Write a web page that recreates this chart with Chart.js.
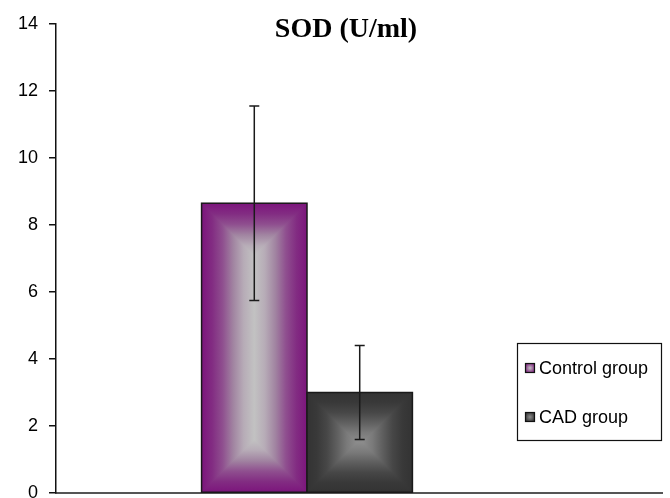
<!DOCTYPE html>
<html>
<head>
<meta charset="utf-8">
<script src="https://cdn.jsdelivr.net/npm/chart.js@4.4.0/dist/chart.umd.min.js"></script>
<style>
html, body { margin: 0; padding: 0; background: #fff; }
</style>
</head>
<body>
<canvas id="sod-bar" width="670" height="498"></canvas>
<script>
/* SOD: control vs CAD, mean with error bars */
const categories = [''];
const groupNames = ['Control group', 'CAD group'];
const sodMeans = [8.65, 3.0];
const sodErrors = [2.9, 1.4];
const yTicks = [0, 2, 4, 6, 8, 10, 12, 14];
const chartTitle = 'SOD (U/ml)';

// edge -> centre colours for the "from centre" fill
const barShades = [
    ['#7c157c', '#822c82', '#8f4f8f', '#a184a1', '#b7acb7', '#c2c2c2'],
    ['#333333', '#393939', '#474747', '#5f5f5f', '#7a7a7a', '#8c8c8c']
];
const sansFont = '"Liberation Sans", Arial, sans-serif';

// gradient running from p0 (edge) over depth px inwards and back out on the far side
function bandGradient(ctx, x0, y0, x1, y1, depth, stops) {
    const len = Math.hypot(x1 - x0, y1 - y0);
    const g = ctx.createLinearGradient(x0, y0, x1, y1);
    const n = stops.length - 1;
    const f = Math.min(depth / len, 0.5);
    stops.forEach(function(c, k) {
        g.addColorStop(k / n * f, c);
        g.addColorStop(1 - k / n * f, c);
    });
    return g;
}

const centreFill = {
    id: 'centreFill',
    afterDatasetsDraw: function(chart) {
        const ctx = chart.ctx;
        chart.data.datasets.forEach(function(ds, i) {
            const meta = chart.getDatasetMeta(i);
            meta.data.forEach(function(bar) {
                const left = bar.x - bar.width / 2, right = bar.x + bar.width / 2;
                const top = Math.min(bar.y, bar.base), bottom = Math.max(bar.y, bar.base);
                const w = right - left, h = bottom - top;
                const d = Math.min(w, h) / 2;
                const stops = barShades[i];
                ctx.save();
                ctx.beginPath();
                ctx.rect(left, top, w, h);
                ctx.clip();
                if (w <= h) {
                    ctx.fillStyle = bandGradient(ctx, left, 0, right, 0, d, stops);
                    ctx.fillRect(left, top, w, h);
                    ctx.fillStyle = bandGradient(ctx, 0, top, 0, bottom, d, stops);
                    ctx.beginPath();
                    ctx.moveTo(left, top); ctx.lineTo(right, top); ctx.lineTo(left + d, top + d); ctx.closePath();
                    ctx.moveTo(left, bottom); ctx.lineTo(right, bottom); ctx.lineTo(left + d, bottom - d); ctx.closePath();
                    ctx.fill();
                } else {
                    ctx.fillStyle = bandGradient(ctx, 0, top, 0, bottom, d, stops);
                    ctx.fillRect(left, top, w, h);
                    ctx.fillStyle = bandGradient(ctx, left, 0, right, 0, d, stops);
                    ctx.beginPath();
                    ctx.moveTo(left, top); ctx.lineTo(left, bottom); ctx.lineTo(left + d, top + d); ctx.closePath();
                    ctx.moveTo(right, top); ctx.lineTo(right, bottom); ctx.lineTo(right - d, top + d); ctx.closePath();
                    ctx.fill();
                }
                ctx.restore();
                ctx.save();
                ctx.strokeStyle = '#1a1a1a';
                ctx.lineWidth = 1.5;
                ctx.strokeRect(left, top, w, h);
                ctx.restore();
            });
        });
    }
};

const errorBars = {
    id: 'errorBars',
    afterDatasetsDraw: function(chart) {
        const ctx = chart.ctx;
        const yScale = chart.scales.y;
        ctx.save();
        ctx.strokeStyle = '#1a1a1a';
        ctx.lineWidth = 1.5;
        chart.data.datasets.forEach(function(ds, i) {
            const meta = chart.getDatasetMeta(i);
            meta.data.forEach(function(bar, j) {
                const hi = yScale.getPixelForValue(ds.data[j] + ds.errors[j]);
                const lo = yScale.getPixelForValue(ds.data[j] - ds.errors[j]);
                ctx.beginPath();
                ctx.moveTo(bar.x, hi); ctx.lineTo(bar.x, lo);
                ctx.moveTo(bar.x - 5, hi); ctx.lineTo(bar.x + 5, hi);
                ctx.moveTo(bar.x - 5, lo); ctx.lineTo(bar.x + 5, lo);
                ctx.stroke();
            });
        });
        ctx.restore();
    }
};

const extras = {
    id: 'extras',
    afterDraw: function(chart) {
        const ctx = chart.ctx;
        const area = chart.chartArea;
        ctx.save();
        // x axis line runs on under the legend
        ctx.strokeStyle = '#555';
        ctx.lineWidth = 2;
        ctx.beginPath();
        ctx.moveTo(area.right - 1, area.bottom);
        ctx.lineTo(663, area.bottom);
        ctx.stroke();

        // title
        ctx.fillStyle = '#000';
        ctx.font = 'bold 28px "Liberation Serif", "Times New Roman", serif';
        ctx.textAlign = 'center';
        ctx.textBaseline = 'alphabetic';
        ctx.fillText(chartTitle, 346, 37);

        // legend box
        ctx.lineWidth = 1.2;
        ctx.strokeStyle = '#111';
        ctx.strokeRect(517.5, 343.5, 144, 97);
        ctx.font = '18px ' + sansFont;
        ctx.textAlign = 'left';
        ctx.textBaseline = 'middle';
        const rows = [368, 417];
        chart.data.datasets.forEach(function(ds, i) {
            const y = rows[i];
            const stops = barShades[i];
            const g = ctx.createRadialGradient(530, y, 0, 530, y, 5);
            g.addColorStop(0, stops[stops.length - 1]);
            g.addColorStop(1, stops[1]);
            ctx.fillStyle = g;
            ctx.fillRect(525.5, y - 4.5, 9, 9);
            ctx.lineWidth = 1.2;
            ctx.strokeRect(525.5, y - 4.5, 9, 9);
            ctx.fillStyle = '#000';
            ctx.fillText(ds.label, 539, y + 1);
        });
        ctx.restore();
    }
};

const ctx_sod = document.getElementById('sod-bar').getContext('2d');
const sodChart = new Chart(ctx_sod, {
    type: 'bar',
    data: {
        labels: categories,
        datasets: groupNames.map(function(name, i) {
            return {
                label: name,
                data: [sodMeans[i]],
                errors: [sodErrors[i]],
                backgroundColor: barShades[i][0],
                borderColor: '#1a1a1a',
                borderWidth: 0,
                categoryPercentage: 0.42,
                barPercentage: 1.0
            };
        })
    },
    options: {
        responsive: false,
        animation: false,
        devicePixelRatio: 1,
        layout: {
            autoPadding: false,
            padding: { left: 0, right: 112, top: 24, bottom: 5 }
        },
        plugins: {
            legend: { display: false },
            title: { display: false },
            tooltip: { enabled: false }
        },
        scales: {
            x: {
                grid: { display: false, drawTicks: false },
                ticks: { display: false },
                border: { display: true, color: '#555', width: 2 },
                afterFit: function(axis) { axis.height = 0; }
            },
            y: {
                min: 0,
                max: 14,
                afterBuildTicks: function(axis) {
                    axis.ticks = yTicks.map(function(v) { return { value: v }; });
                },
                afterFit: function(axis) {
                    axis.width = 56;
                    // let the 0 label hang off the bottom edge as in the original
                    axis.paddingTop = 0;
                    axis.paddingBottom = 0;
                },
                border: { display: true, color: '#111', width: 1.5 },
                grid: { display: true, drawOnChartArea: false, drawTicks: true, tickLength: 7, color: '#111', lineWidth: 1.5 },
                ticks: { color: '#000', padding: 11, font: { family: sansFont, size: 18 } }
            }
        }
    },
    plugins: [centreFill, errorBars, extras]
});
</script>
</body>
</html>
